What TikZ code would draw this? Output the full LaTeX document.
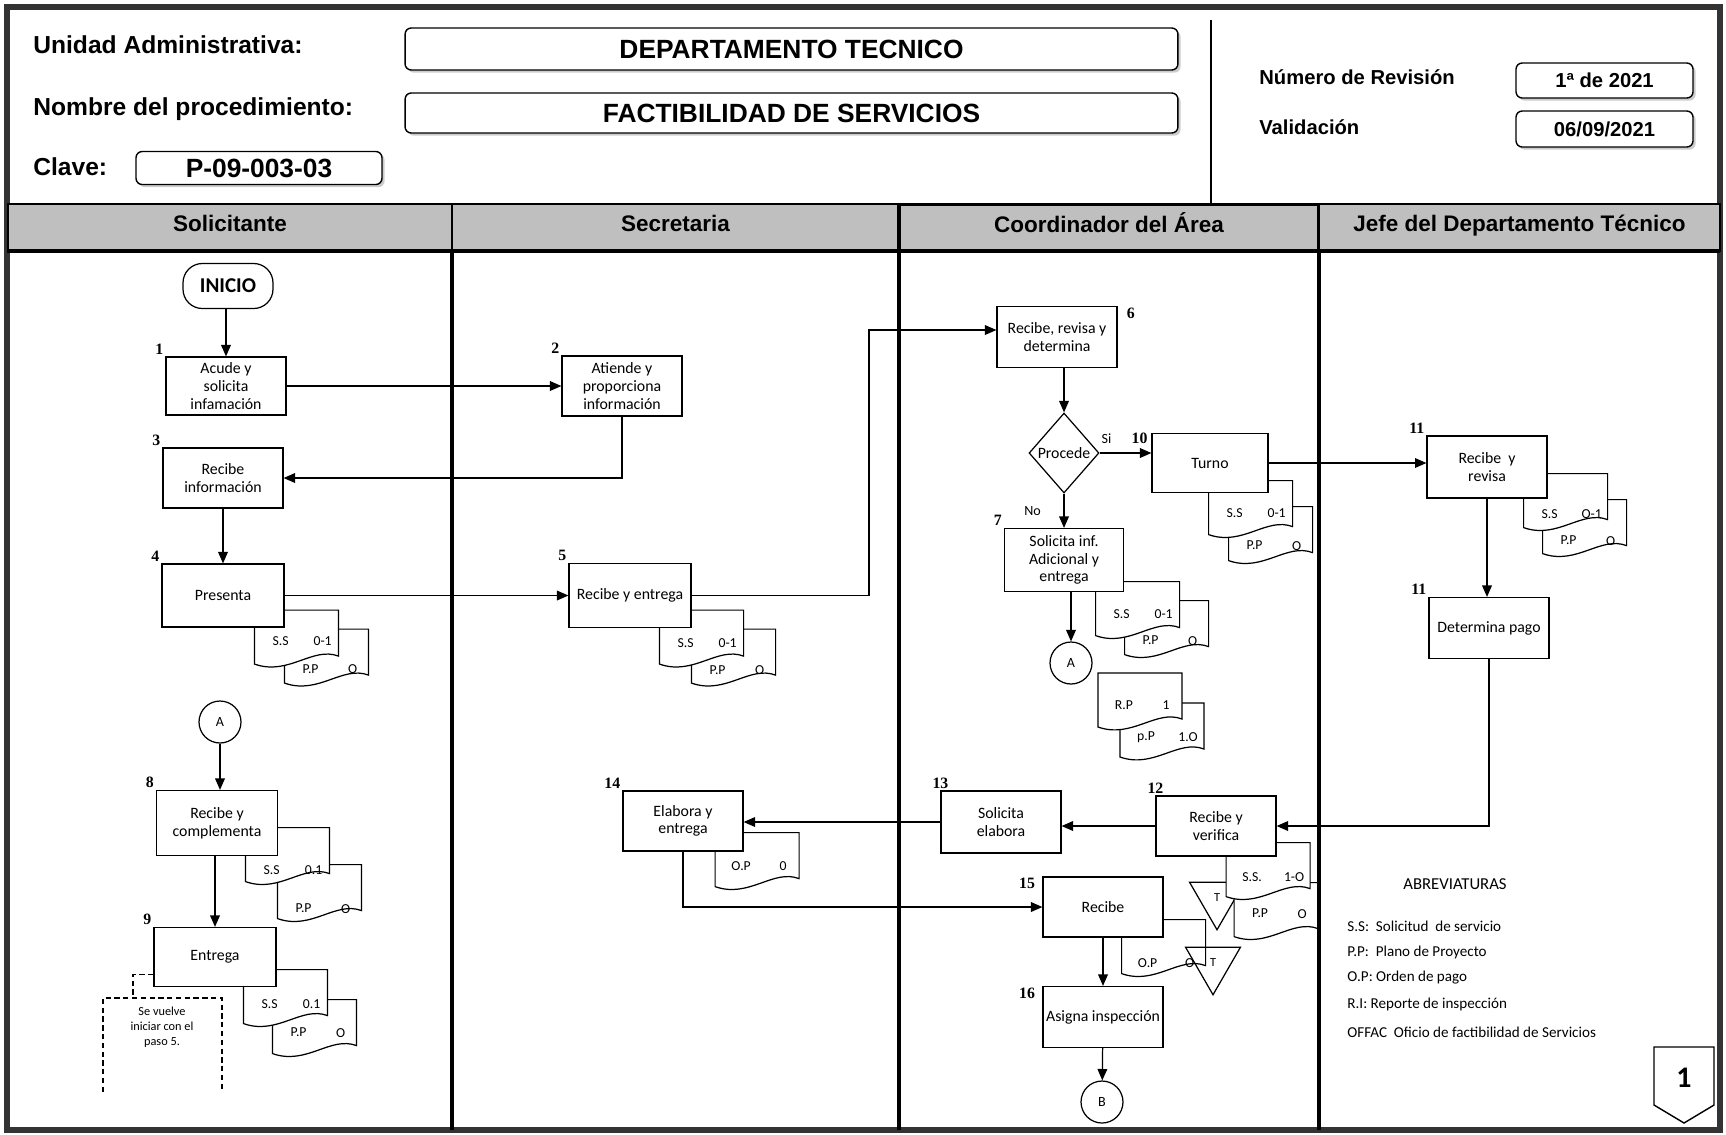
\documentclass[tikz,border=0pt]{standalone}
\usepackage{fontspec}
\setmainfont{Carlito}
\newfontfamily\hdrfont{Liberation Sans}
\newfontfamily\numfont{Liberation Serif}
\usepackage{tikz}
\usetikzlibrary{arrows.meta,positioning,shapes.geometric,shadows,backgrounds}
\definecolor{lanegray}{HTML}{BFBFBF}
\definecolor{framegray}{HTML}{333333}

\begin{document}
\begin{tikzpicture}[
        x=0.02cm, y=-0.02cm,
        hdrlbl/.style={anchor=west, inner sep=0pt,
            font=\hdrfont\bfseries\fontsize{14}{16}\selectfont},
        hdrsmall/.style={font=\hdrfont\bfseries\fontsize{11.5}{13}\selectfont},
        hdrbox/.style={
            draw,
            rounded corners=3.5pt,
            fill=white,
            line width=0.8pt,
            inner sep=0pt,
            drop shadow={shadow xshift=1.5pt, shadow yshift=-1.5pt, opacity=0.4},
            font=\hdrfont\bfseries\fontsize{15}{17}\selectfont
        },
        lanehd/.style={
            draw,
            fill=lanegray,
            line width=1.2pt,
            minimum height=0.94cm,
            inner sep=0pt,
            text height=9pt,
            text depth=4pt,
            font=\hdrfont\bfseries\fontsize{12.8}{15}\selectfont
        },
        lanesep/.style={line width=2pt},
        activity/.style={
            draw,
            fill=white,
            line width=0.7pt,
            minimum width=2.4cm,
            minimum height=1.2cm,
            align=center,
            inner sep=1pt,
            font=\fontsize{9}{10}\selectfont
        },
        term/.style={draw, fill=white, line width=0.7pt, rounded corners=11pt,
            minimum width=1.8cm, minimum height=0.9cm,
            font=\bfseries\fontsize{12}{14}\selectfont},
        decision/.style={draw, fill=white, diamond, line width=0.7pt,
            minimum width=1.4cm, minimum height=1.6cm, inner sep=0pt,
            font=\fontsize{9}{10}\selectfont},
        conn/.style={draw, circle, fill=white, line width=0.7pt,
            minimum size=0.84cm, inner sep=0pt, font=\fontsize{8}{9}\selectfont},
        tri/.style={draw, fill=white, regular polygon, regular polygon sides=3,
            shape border rotate=180, minimum size=1.27cm, inner sep=0pt,
            line width=0.7pt, font=\fontsize{7}{8}\selectfont},
        stepno/.style={inner sep=1pt, font=\numfont\bfseries\fontsize{9}{10}\selectfont},
        branch/.style={inner sep=1pt, font=\fontsize{8}{9}\selectfont},
        doctext/.style={inner sep=0pt, font=\fontsize{7.8}{9}\selectfont},
        abbr/.style={anchor=west, inner sep=0pt, font=\fontsize{8.6}{10}\selectfont},
        dashline/.style={line width=0.6pt, dash pattern=on 3pt off 2pt},
        flow/.style={line width=0.7pt, -{Triangle[length=6.5pt,width=5.5pt]}},
        pics/docu/.style n args={3}{code={
            \draw[fill=white, line width=0.7pt] (0,0) -- (84,0) -- (84,46)
                .. controls (58,36) and (34,66) .. (0,54) -- cycle;
            \node[doctext] (-l) at (26,#3) {#1};
            \node[doctext] (-r) at (68,#3) {#2};
        }}
    ]
    \useasboundingbox (0,0) rectangle (1726,1134);
    \draw[line width=3.2pt, framegray] (7,7) rectangle (1720,1130);
    \draw[line width=0.8pt] (1211,20) -- (1211,204);

    % encabezado
    \node[hdrlbl] (lblunidad) at (33,45) {Unidad Administrativa:};
    \node[hdrlbl] (lblproc) at (33,109) {Nombre del procedimiento:};
    \node[hdrlbl] (lblclave) at (33,167) {Clave:};
    \node[hdrbox, minimum width=15.46cm, minimum height=0.84cm] (unidad) at (791.5,49) {DEPARTAMENTO TECNICO};
    \node[hdrbox, minimum width=15.46cm, minimum height=0.8cm] (proc) at (791.5,113) {FACTIBILIDAD DE SERVICIOS};
    \node[hdrbox, minimum width=4.92cm, minimum height=0.66cm] (clave) at (259,168) {P-09-003-03};
    \node[hdrlbl, hdrsmall] (lblrev) at (1259,77) {Número de Revisión};
    \node[hdrlbl, hdrsmall] (lblval) at (1259,127) {Validación};
    \node[hdrbox, hdrsmall, minimum width=3.54cm, minimum height=0.7cm] (rev) at (1604.5,80.5) {1ª de 2021};
    \node[hdrbox, hdrsmall, minimum width=3.54cm, minimum height=0.72cm] (valid) at (1604.5,129) {06/09/2021};

    % carriles
    \node[lanehd, minimum width=8.88cm] (hsol) at (230,227.5) {Solicitante};
    \node[lanehd, minimum width=8.94cm] (hsec) at (675.5,227.5) {Secretaria};
    \node[lanehd, minimum width=8.4cm, line width=2pt] (hcoo) at (1109,228) {Coordinador del Área};
    \node[lanehd, minimum width=8.02cm] (hjef) at (1519.5,227.5) {Jefe del Departamento Técnico};
    \draw[line width=2.2pt] (7,251) -- (1720,251);
    \foreach \x in {452,899,1319}
        \draw[lanesep] (\x,251) -- (\x,1130);

    % Solicitante
    \node[term] (inicio) at (228,286) {INICIO};
    \node[activity, minimum height=1.16cm] (b1) at (226,386) {Acude y\\solicita\\infamación};
    \node[activity] (b3) at (223,478) {Recibe\\información};
    \node[activity, minimum width=2.44cm, minimum height=1.26cm] (b4) at (223,595.5) {Presenta};
    \node[conn] (conA2) at (220,722) {A};
    \node[activity, minimum width=2.42cm, minimum height=1.3cm] (b8) at (217,823) {Recibe y\\complementa};
    \node[activity, minimum width=2.44cm, minimum height=1.18cm] (b9) at (215,957) {Entrega};
    \node[align=center, inner sep=0pt, font=\fontsize{7}{8.5}\selectfont] (nota) at (162,1027) {Se vuelve\\iniciar con el\\paso 5.};

    % Secretaria
    \node[activity] (b2) at (622,386) {Atiende y\\proporciona\\información};
    \node[activity, minimum width=2.44cm, minimum height=1.28cm] (b5) at (630,595.5) {Recibe y entrega};
    \node[activity] (b14) at (683,821) {Elabora y\\entrega};

    % Coordinador del Area
    \node[activity, minimum height=1.22cm] (b6) at (1057,337) {Recibe, revisa y\\determina};
    \node[decision] (dec) at (1064,453) {Procede};
    \node[activity, minimum width=2.32cm, minimum height=1.18cm] (b10) at (1210,463) {Turno};
    \node[activity, minimum width=2.38cm, minimum height=1.26cm] (b7) at (1064,560) {Solicita inf.\\Adicional y\\entrega};
    \node[conn] (conA) at (1071,663) {A};
    \node[activity, minimum height=1.24cm] (b13) at (1001,822) {Solicita\\elabora};
    \node[activity] (b12) at (1216,826) {Recibe y\\verifica};
    \node[activity] (b15) at (1103,907) {Recibe};
    \node[activity, minimum height=1.22cm] (b16) at (1103,1017) {Asigna inspección};
    \node[conn] (conB) at (1102,1102) {B};

    % Jefe del Departamento
    \node[activity, minimum height=1.24cm] (b11a) at (1487,467) {Recibe \ y\\revisa};
    \node[activity, minimum height=1.22cm] (b11b) at (1489,628) {Determina pago};

    % numeros de paso
    \node[stepno, above left=0pt of b1] (n1) {1};
    \node[stepno, above left=0pt of b2] (n2) {2};
    \node[stepno, above left=0pt of b3] (n3) {3};
    \node[stepno, above left=0pt of b4] (n4) {4};
    \node[stepno, above left=0pt of b5] (n5) {5};
    \node[stepno, below right=0pt and 4pt of b6.north east] (n6) {6};
    \node[stepno, above left=0pt of b7] (n7) {7};
    \node[stepno, above left=0pt of b8] (n8) {8};
    \node[stepno, above left=0pt of b9] (n9) {9};
    \node[stepno, left=1pt of b10.north west, yshift=-3pt] (n10) {10};
    \node[stepno, above left=0pt of b11a] (n11a) {11};
    \node[stepno, above left=0pt of b11b] (n11b) {11};
    \node[stepno, above=0pt of b12.north west] (n12) {12};
    \node[stepno, above=0pt of b13.north west] (n13) {13};
    \node[stepno, above left=0pt of b14] (n14) {14};
    \node[stepno, below left=0pt and 3pt of b15.north west] (n15) {15};
    \node[stepno, below left=0pt and 3pt of b16.north west] (n16) {16};
    \node[branch, above right=4pt and 0pt of dec.east] (lsi) {Si};
    \node[branch, below left=6pt and 12pt of dec.south] (lno) {No};

    % documentos
    \begin{pgfonlayer}{background}
        \node[tri] (t1) at (1217,898) {T};
        \pic (d4b) at ([shift={(0,1.5)}]b4.south east) {docu={P.P}{O}{40}};
        \pic (d4a) at ([shift={(-30,-17.5)}]b4.south east) {docu={S.S}{0-1}{31}};
        \pic (d5b) at ([shift={(0,1)}]b5.south east) {docu={P.P}{O}{41}};
        \pic (d5a) at ([shift={(-32,-18)}]b5.south east) {docu={S.S}{0-1}{33}};
        \pic (d10b) at ([shift={(-40,13.5)}]b10.south east) {docu={P.P}{O}{39}};
        \pic (d10a) at ([shift={(-60,-12.5)}]b10.south east) {docu={S.S}{0-1}{32}};
        \pic (d7b) at ([shift={(0.5,8.5)}]b7.south east) {docu={P.P}{O}{40}};
        \pic (d7a) at ([shift={(-28.5,-10.5)}]b7.south east) {docu={S.S}{0-1}{32}};
        \pic (drpb) at (1120,703) {docu={p.P}{1.O}{34}};
        \pic (drpa) at (1098,673) {docu={R.P}{1}{32}};
        \pic (d11b) at ([shift={(-5,1)}]b11a.south east) {docu={P.P}{O}{41}};
        \pic (d11a) at ([shift={(-24,-25)}]b11a.south east) {docu={S.S}{O-1}{40}};
        \pic (d8b) at ([shift={(-0.5,8.5)}]b8.south east) {docu={P.P}{O}{44}};
        \pic (d8a) at ([shift={(-32.5,-28.5)}]b8.south east) {docu={S.S}{0.1}{42}};
        \pic (d9b) at ([shift={(-4,12.5)}]b9.south east) {docu={P.P}{O}{33}};
        \pic (d9a) at ([shift={(-33,-17.5)}]b9.south east) {docu={S.S}{0.1}{34}};
        \pic (d14) at ([shift={(-28.5,-19)}]b14.south east) {docu={O.P}{0}{33}};
        \pic (d12b) at ([shift={(-42.5,26)}]b12.south east) {docu={P.P}{O}{31}};
        \pic (d12a) at ([shift={(-50.5,-14)}]b12.south east) {docu={S.S.}{1-O}{34}};
        \pic (d15) at ([shift={(-42,-18)}]b15.south east) {docu={O.P}{O}{43}};
    \end{pgfonlayer}
    \node[tri, fill=none] (t2) at (1213,963) {T};

    % conectores
    \draw[flow] (inicio.south -| b1.north) -- (b1.north);
    \draw[flow] (b1) -- (b2);
    \draw[flow] (b2.south) |- (b3.east);
    \draw[flow] (b3) -- (b4);
    \draw[flow] (b4.east) -- (b4.east -| b5.west);
    \coordinate (k56) at (869,330);
    \draw[flow] (b5.east) -| (k56) -- (k56 -| b6.west);
    \draw[flow] (b6.south -| dec.north) -- (dec.north);
    \draw[flow] (dec.east) -- (dec.east -| b10.west);
    \draw[flow] (dec) -- (b7);
    \draw[flow] (b7.south -| conA.north) -- (conA.north);
    \draw[flow] (b10.east) -- (b10.east -| b11a.west);
    \draw[flow] (b11a.south) -- (b11a.south |- b11b.north);
    \draw[flow] (b11b.south) |- (b12.east);
    \draw[flow] (b12.west) -- (b12.west -| b13.east);
    \draw[flow] (b13.west) -- (b13.west -| b14.east);
    \draw[flow] (b14.south) |- (b15.west);
    \draw[flow] (b15) -- (b16);
    \draw[flow] (b16) -- (conB);
    \draw[flow] (conA2) -- (conA2 |- b8.north);
    \draw[flow] (b8.south -| b9.north) -- (b9.north);
    \coordinate (k9) at (133,998);
    \draw[dashline] ([yshift=-10pt]b9.west) -| (k9);
    \draw[dashline] (103,1092) |- (222,998) -- (222,1092);

    % abreviaturas
    \node[abbr, anchor=center, font=\fontsize{9.5}{11}\selectfont] (abrv) at (1455,884) {ABREVIATURAS};
    \node[abbr] (ab1) at (1347,926) {S.S:~ Solicitud~ de servicio};
    \node[abbr] (ab2) at (1347,952) {P.P:~ Plano de Proyecto};
    \node[abbr] (ab3) at (1347,978) {O.P: Orden de pago};
    \node[abbr] (ab4) at (1347,1004) {R.I: Reporte de inspección};
    \node[abbr] (ab5) at (1347,1032) {OFFAC~ Oficio de factibilidad de Servicios};

    % conector de pagina
    \draw[line width=0.8pt, fill=white] (1654,1047) -- (1714,1047) -- (1714,1105)
        -- (1684,1123) -- (1654,1105) -- cycle;
    \node[font=\bfseries\fontsize{17}{19}\selectfont, inner sep=0pt] (pag) at (1684,1078) {1};
\end{tikzpicture}
\end{document}
